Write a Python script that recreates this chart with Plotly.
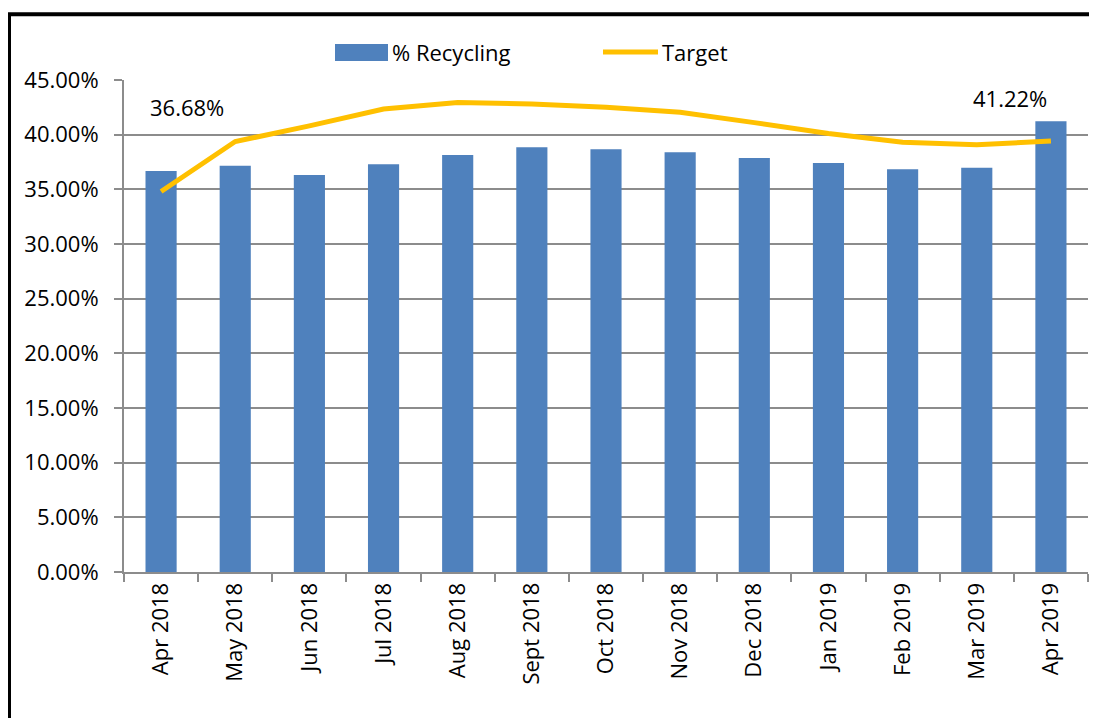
import plotly.graph_objects as go

months = ["Apr 2018", "May 2018", "Jun 2018", "Jul 2018", "Aug 2018", "Sept 2018",
          "Oct 2018", "Nov 2018", "Dec 2018", "Jan 2019", "Feb 2019", "Mar 2019", "Apr 2019"]
recycling = [36.68, 37.15, 36.30, 37.30, 38.15, 38.85, 38.67, 38.40, 37.87, 37.40, 36.84, 36.98, 41.22]
target = [34.80, 39.37, 40.80, 42.35, 42.95, 42.80, 42.50, 42.05, 41.10, 40.10, 39.30, 39.07, 39.43]
y_ticks = [0, 5, 10, 15, 20, 25, 30, 35, 40, 45]

FONT = "Open Sans"
FS = 22
BAR_COLOR = "#4F81BD"
LINE_COLOR = "#FFC000"
GRID = "#8C8C8C"

# the page body has an 8px margin, so the figure is drawn 8px smaller and
# every target pixel position is shifted by OFF
OFF = 8
W, H = 1097 - OFF, 718 - OFF
L, R, T, B = 124 - OFF, 1088 - OFF, 80 - OFF, 572 - OFF


def px(xp):
    return (xp - OFF - L) / (R - L)


def py(yp):
    return (B - (yp - OFF)) / (B - T)


fig = go.Figure()
fig.add_trace(go.Bar(x=months, y=recycling, name="% Recycling",
                     marker=dict(color=BAR_COLOR, line=dict(width=0)),
                     showlegend=False))
fig.add_trace(go.Scatter(x=months, y=target, name="Target", mode="lines",
                         line=dict(color=LINE_COLOR, width=5),
                         showlegend=False))

shapes = [
    # outer chart border
    dict(type="rect", xref="paper", yref="paper",
         x0=px(9), x1=px(1101), y0=py(724), y1=py(14.3),
         line=dict(color="black", width=4), fillcolor="rgba(0,0,0,0)", layer="above"),
    # legend swatches
    dict(type="rect", xref="paper", yref="paper",
         x0=px(335), x1=px(388), y0=py(61), y1=py(44),
         line=dict(width=0), fillcolor=BAR_COLOR),
    dict(type="line", xref="paper", yref="paper",
         x0=px(603), x1=px(658), y0=py(52), y1=py(52),
         line=dict(color=LINE_COLOR, width=5)),
]

annotations = [
    dict(text="% Recycling", xref="paper", yref="paper", x=px(390), y=py(52),
         xanchor="left", yanchor="middle", showarrow=False,
         font=dict(family=FONT, size=FS, color="black")),
    dict(text="Target", xref="paper", yref="paper", x=px(660), y=py(52),
         xanchor="left", yanchor="middle", showarrow=False,
         font=dict(family=FONT, size=FS, color="black")),
    dict(text=f"{recycling[0]:.2f}%", x=months[0], y=42.54, xref="x", yref="y",
         xshift=26, showarrow=False, font=dict(family=FONT, size=FS, color="black")),
    dict(text=f"{recycling[-1]:.2f}%", x=months[-1], y=43.37, xref="x", yref="y",
         xshift=-41, showarrow=False, font=dict(family=FONT, size=FS, color="black")),
]

fig.update_layout(
    width=W, height=H,
    margin=dict(l=L, r=W - R, t=T, b=H - B),
    paper_bgcolor="white", plot_bgcolor="white",
    bargap=0.58,
    showlegend=False,
    font=dict(family=FONT, size=FS, color="black"),
    shapes=shapes,
    annotations=annotations,
)
fig.update_xaxes(type="category", tickson="boundaries", ticks="outside", ticklen=8,
                 tickcolor=GRID, tickwidth=2, showline=True, linecolor=GRID, linewidth=2,
                 tickangle=-90, showgrid=False,
                 tickfont=dict(family=FONT, size=FS, color="black"))
fig.update_yaxes(range=[0, 45], tickvals=y_ticks,
                 ticktext=[f"{v:.2f}%" for v in y_ticks],
                 ticks="outside", ticklen=8, tickcolor=GRID, tickwidth=2,
                 showline=True, linecolor=GRID, linewidth=2,
                 showgrid=True, gridcolor=GRID, gridwidth=2,
                 zeroline=False, ticklabelstandoff=11,
                 tickfont=dict(family=FONT, size=FS, color="black"))

fig.write_html("out.html")
